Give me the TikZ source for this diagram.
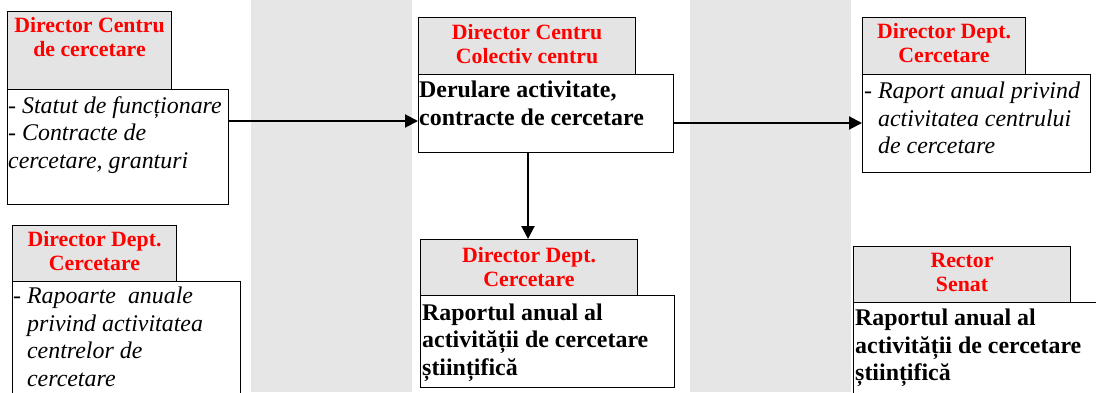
\documentclass[tikz,border=0pt]{standalone}
\usepackage{fontspec}
\setmainfont{Liberation Serif}
\usetikzlibrary{arrows.meta}
\definecolor{stripe}{RGB}{230,230,230}
\definecolor{hdrfill}{RGB}{228,228,228}
\definecolor{hdrred}{RGB}{255,0,0}
\tikzset{
  hdr/.style={draw=black, line width=1pt, fill=hdrfill, anchor=north west, inner sep=0pt},
  bodybox/.style={draw=black, line width=1.2pt, fill=white, anchor=north west, inner sep=0pt},
  hdrtext/.style={anchor=north, inner sep=0pt, align=center, text=hdrred,
    font=\fontsize{21.8}{24.5}\selectfont\bfseries},
  ittext/.style={anchor=north west, inner sep=0pt, align=left,
    font=\fontsize{23.9}{27.5}\selectfont\itshape},
  bftext/.style={anchor=north west, inner sep=0pt, align=left,
    font=\fontsize{23.9}{27.5}\selectfont\bfseries},
  arr/.style={line width=2pt, -{Triangle[length=13pt,width=13pt]}}
}
\begin{document}
\begin{tikzpicture}[x=1pt,y=-1pt]
\useasboundingbox (0,0) rectangle (1096,392);
\clip (0,0) rectangle (1096,392);
\fill[white] (0,0) rectangle (1096,392);
\fill[stripe] (251,0) rectangle (412,392);
\fill[stripe] (690,0) rectangle (851,392);

% Box 1
\node[hdr, minimum width=164pt, minimum height=78pt] (h1) at (7,11) {};
\node[bodybox, minimum width=221pt, minimum height=115pt] (b1) at (7,89) {};
\node[hdrtext] (t1h) at ([yshift=-6pt]h1.north) {Director Centru\\de cercetare};
\node[ittext] (t1b) at ([xshift=1pt,yshift=-7pt]b1.north west) {- Statut de funcționare\\- Contracte de\\cercetare, granturi};

% Box 2
\node[hdr, minimum width=164pt, minimum height=56pt] (h2) at (12,225) {};
\node[bodybox, minimum width=228pt, minimum height=140pt] (b2) at (12,281) {};
\node[hdrtext] (t2h) at ([yshift=-6pt]h2.north) {Director Dept.\\Cercetare};
\node[ittext] (t2b) at ([xshift=1pt,yshift=-6pt]b2.north west) {- Rapoarte\ \ anuale\\\hphantom{- }privind activitatea\\\hphantom{- }centrelor de\\\hphantom{- }cercetare};

% Box 3
\node[hdr, minimum width=217pt, minimum height=57pt] (h3) at (418,17) {};
\node[bodybox, minimum width=255pt, minimum height=78pt] (b3) at (418,74) {};
\node[hdrtext] (t3h) at ([yshift=-7pt]h3.north) {Director Centru\\Colectiv centru};
\node[bftext] (t3b) at ([xshift=1pt,yshift=-7pt]b3.north west) {Derulare activitate,\\contracte de cercetare};

% Box 4
\node[hdr, minimum width=217pt, minimum height=56pt] (h4) at (420,239) {};
\node[bodybox, minimum width=254pt, minimum height=92pt] (b4) at (420,295) {};
\node[hdrtext] (t4h) at ([yshift=-8pt]h4.north) {Director Dept.\\Cercetare};
\node[bftext] (t4b) at ([xshift=2pt,yshift=-8.5pt]b4.north west) {Raportul anual al\\activității de cercetare\\științifică};

% Box 5
\node[hdr, minimum width=163pt, minimum height=57pt] (h5) at (862,17) {};
\node[bodybox, minimum width=228pt, minimum height=98pt] (b5) at (862,74) {};
\node[hdrtext] (t5h) at ([yshift=-6pt]h5.north) {Director Dept.\\Cercetare};
\node[ittext] (t5b) at ([xshift=2pt,yshift=-8pt]b5.north west) {- Raport anual privind\\\hphantom{- }activitatea centrului\\\hphantom{- }de cercetare};

% Box 6
\node[hdr, minimum width=217pt, minimum height=56pt] (h6) at (853,246) {};
\node[bodybox, minimum width=260pt, minimum height=110pt] (b6) at (853,302) {};
\node[hdrtext] (t6h) at ([yshift=-7pt]h6.north) {Rector\\Senat};
\node[bftext] (t6b) at ([xshift=2pt,yshift=-7pt]b6.north west) {Raportul anual al\\activității de cercetare\\științifică};

% Arrows
\coordinate (a1) at ([yshift=-32pt]b1.north east);
\draw[arr] (a1) -- (a1 -| b3.west);
\coordinate (a2) at ([yshift=-49pt]b3.north east);
\draw[arr] (a2) -- (a2 -| b5.west);
\coordinate (a3) at ([xshift=110pt]b3.south west);
\draw[arr] (a3) -- (a3 |- h4.north);
\end{tikzpicture}
\end{document}
